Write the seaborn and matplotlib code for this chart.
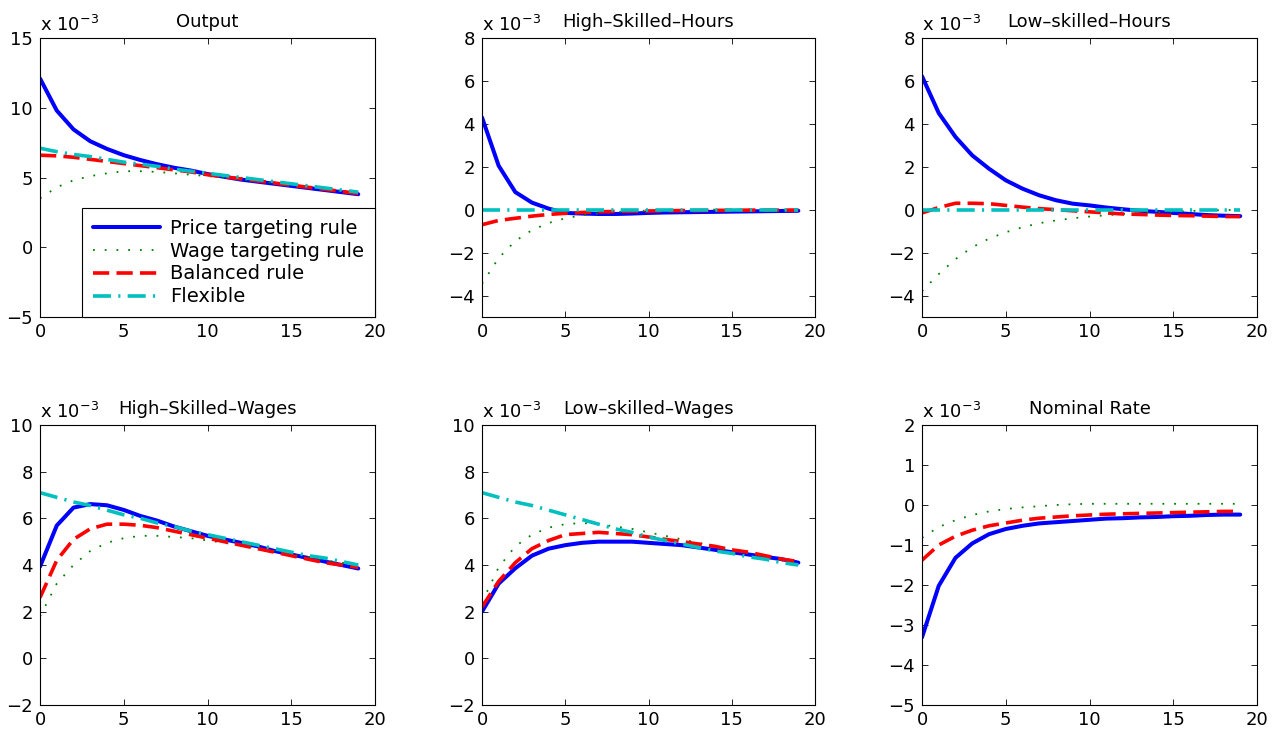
import numpy as np
import pandas as pd
import matplotlib
matplotlib.use("Agg")
import matplotlib.pyplot as plt
import seaborn as sns

sns.set_style("ticks")
plt.rcParams["font.family"] = ["DejaVu Sans"]
plt.rcParams["axes.unicode_minus"] = True
plt.rcParams["text.color"] = "black"
plt.rcParams["axes.titlecolor"] = "black"
plt.rcParams["axes.labelcolor"] = "black"
plt.rcParams["xtick.color"] = "black"
plt.rcParams["ytick.color"] = "black"

periods = list(range(20))

series_names = ["Price targeting rule", "Wage targeting rule", "Balanced rule", "Flexible"]

panel_titles = ["Output", "High–Skilled–Hours", "Low–skilled–Hours",
                "High–Skilled–Wages", "Low–skilled–Wages", "Nominal Rate"]

# values in units of 1e-3
output_price = [12.1, 9.8, 8.45, 7.6, 7.05, 6.6, 6.25, 5.95, 5.7, 5.5, 5.25, 5.05, 4.85, 4.7, 4.55, 4.4, 4.25, 4.1, 3.95, 3.8]
output_wage = [3.5, 4.3, 4.8, 5.1, 5.3, 5.45, 5.45, 5.4, 5.3, 5.2, 5.1, 5.0, 4.85, 4.75, 4.6, 4.5, 4.35, 4.2, 4.05, 3.95]
output_bal = [6.6, 6.55, 6.45, 6.3, 6.15, 6.0, 5.85, 5.7, 5.55, 5.4, 5.2, 5.05, 4.9, 4.75, 4.6, 4.45, 4.3, 4.15, 4.0, 3.85]
output_flex = [7.1, 6.85, 6.65, 6.5, 6.3, 6.1, 5.95, 5.8, 5.6, 5.45, 5.3, 5.15, 5.0, 4.85, 4.7, 4.55, 4.4, 4.25, 4.1, 3.95]

hsh_price = [4.3, 2.05, 0.82, 0.33, 0.05, -0.15, -0.18, -0.2, -0.2, -0.18, -0.15, -0.13, -0.12, -0.11, -0.1, -0.09, -0.08, -0.07, -0.06, -0.05]
hsh_wage = [-3.45, -2.25, -1.46, -0.95, -0.62, -0.4, -0.26, -0.17, -0.11, -0.07, -0.04, -0.02, -0.01, 0.0, 0.0, 0.0, 0.0, 0.0, 0.0, 0.0]
hsh_bal = [-0.7, -0.5, -0.4, -0.3, -0.22, -0.17, -0.13, -0.1, -0.08, -0.07, -0.06, -0.05, -0.04, -0.04, -0.03, -0.03, -0.02, -0.02, -0.02, -0.02]
hsh_flex = [0.0] * 20

lsh_price = [6.22, 4.5, 3.39, 2.53, 1.91, 1.37, 0.98, 0.67, 0.44, 0.28, 0.2, 0.1, 0.02, -0.05, -0.1, -0.15, -0.2, -0.25, -0.28, -0.3]
lsh_wage = [-3.8, -3.0, -2.3, -1.75, -1.35, -1.05, -0.82, -0.63, -0.5, -0.4, -0.32, -0.26, -0.2, -0.16, -0.12, -0.09, -0.06, -0.04, -0.02, 0.0]
lsh_bal = [-0.15, 0.1, 0.3, 0.3, 0.28, 0.2, 0.12, 0.05, 0.0, -0.05, -0.1, -0.15, -0.2, -0.22, -0.25, -0.27, -0.28, -0.3, -0.32, -0.32]
lsh_flex = [0.0] * 20

hsw_price = [3.93, 5.69, 6.46, 6.61, 6.56, 6.36, 6.1, 5.9, 5.65, 5.45, 5.25, 5.1, 4.95, 4.8, 4.6, 4.45, 4.3, 4.15, 4.0, 3.85]
hsw_wage = [1.8, 3.2, 4.0, 4.6, 4.95, 5.15, 5.25, 5.25, 5.2, 5.15, 5.05, 4.95, 4.85, 4.7, 4.6, 4.45, 4.35, 4.2, 4.1, 4.0]
hsw_bal = [2.6, 4.2, 5.1, 5.55, 5.75, 5.75, 5.7, 5.6, 5.45, 5.3, 5.15, 5.0, 4.85, 4.7, 4.55, 4.4, 4.25, 4.1, 4.0, 3.9]
hsw_flex = [7.1, 6.9, 6.7, 6.55, 6.35, 6.15, 6.0, 5.8, 5.65, 5.45, 5.3, 5.15, 5.0, 4.85, 4.7, 4.55, 4.4, 4.3, 4.15, 4.0]

lsw_price = [2.0, 3.2, 3.86, 4.4, 4.7, 4.85, 4.95, 5.0, 5.0, 5.0, 4.95, 4.9, 4.85, 4.75, 4.65, 4.55, 4.45, 4.35, 4.25, 4.1]
lsw_wage = [2.4, 3.9, 4.8, 5.3, 5.6, 5.75, 5.8, 5.75, 5.65, 5.55, 5.4, 5.25, 5.1, 4.95, 4.8, 4.65, 4.5, 4.35, 4.2, 4.05]
lsw_bal = [2.2, 3.3, 4.1, 4.7, 5.05, 5.3, 5.35, 5.4, 5.35, 5.3, 5.2, 5.1, 5.0, 4.9, 4.8, 4.65, 4.55, 4.4, 4.25, 4.15]
lsw_flex = [7.1, 6.9, 6.7, 6.55, 6.35, 6.15, 5.95, 5.75, 5.55, 5.4, 5.2, 5.05, 4.9, 4.75, 4.6, 4.5, 4.35, 4.25, 4.1, 4.0]

nr_price = [-3.31, -2.02, -1.32, -0.96, -0.73, -0.6, -0.52, -0.46, -0.43, -0.4, -0.37, -0.34, -0.33, -0.31, -0.3, -0.28, -0.27, -0.25, -0.24, -0.24]
nr_wage = [-0.82, -0.55, -0.38, -0.25, -0.16, -0.1, -0.06, -0.03, 0.0, 0.02, 0.03, 0.03, 0.03, 0.03, 0.03, 0.03, 0.03, 0.03, 0.03, 0.03]
nr_bal = [-1.38, -1.0, -0.78, -0.63, -0.52, -0.45, -0.38, -0.33, -0.3, -0.27, -0.25, -0.23, -0.22, -0.21, -0.2, -0.19, -0.18, -0.17, -0.16, -0.16]
nr_flex = None

panel_data = [
    [output_price, output_wage, output_bal, output_flex],
    [hsh_price, hsh_wage, hsh_bal, hsh_flex],
    [lsh_price, lsh_wage, lsh_bal, lsh_flex],
    [hsw_price, hsw_wage, hsw_bal, hsw_flex],
    [lsw_price, lsw_wage, lsw_bal, lsw_flex],
    [nr_price, nr_wage, nr_bal, nr_flex],
]

y_limits = [(-5, 15), (-5, 8), (-5, 8), (-2, 10), (-2, 10), (-5, 2)]
y_ticks = [[-5, 0, 5, 10, 15], [-4, -2, 0, 2, 4, 6, 8], [-4, -2, 0, 2, 4, 6, 8],
           [-2, 0, 2, 4, 6, 8, 10], [-2, 0, 2, 4, 6, 8, 10], [-5, -4, -3, -2, -1, 0, 1, 2]]
x_ticks = [0, 5, 10, 15, 20]

styles = [
    dict(color="#0000ff", lw=2.9, linestyle="-"),
    dict(color="#008000", lw=1.3, linestyle=(0, (1, 5.5))),
    dict(color="#ff0000", lw=2.6, linestyle=(0, (4.5, 2.0))),
    dict(color="#00bfbf", lw=2.6, linestyle=(0, (5.0, 2.0, 0.6, 2.0))),
]

W, H = 1274, 730
fig = plt.figure(figsize=(W / 100, H / 100), dpi=100)
fig.patch.set_facecolor("white")

col_px = [(40, 375), (482, 815), (922, 1257)]
row_px = [(38, 317), (425, 705)]

FS = 13
axes = []
for i in range(6):
    r, c = divmod(i, 3)
    x0, x1 = col_px[c]
    y0, y1 = row_px[r]
    ax = fig.add_axes([x0 / W, 1 - y1 / H, (x1 - x0) / W, (y1 - y0) / H])
    axes.append(ax)
    for s, vals in enumerate(panel_data[i]):
        if vals is None:
            continue
        df = pd.DataFrame({"t": periods, "v": vals})
        sns.lineplot(data=df, x="t", y="v", ax=ax, sort=False, errorbar=None,
                     label=series_names[s], legend=False, **styles[s])
    ax.set_xlim(0, 20)
    ax.set_ylim(*y_limits[i])
    ax.set_xticks(x_ticks)
    ax.set_yticks(y_ticks[i])
    ax.set_xlabel("")
    ax.set_ylabel("")
    ax.tick_params(direction="in", top=True, right=True, length=4, width=0.6,
                   labelsize=FS, colors="black")
    ax.tick_params(axis="x", pad=4)
    ax.tick_params(axis="y", pad=5)
    for sp in ax.spines.values():
        sp.set_visible(True)
        sp.set_linewidth(0.8)
        sp.set_color("black")
    ax.set_title(panel_titles[i], fontsize=FS, pad=8, color="black")
    ax.text(0.0, 1.012, r"x 10$^{-3}$", transform=ax.transAxes, ha="left",
            va="bottom", fontsize=FS, color="black")

leg = axes[0].legend(handles=axes[0].get_lines(), labels=series_names,
                     loc="lower right", bbox_to_anchor=(1.0, 0.0),
                     borderaxespad=0.0, fontsize=14, frameon=True,
                     fancybox=False, framealpha=1, edgecolor="black",
                     handlelength=3.45, handletextpad=0.55, labelspacing=0.2,
                     borderpad=0.55)
leg.get_frame().set_linewidth(0.8)
for t in leg.get_texts():
    t.set_color("black")

fig.savefig("out.png", dpi=100, facecolor="white")
